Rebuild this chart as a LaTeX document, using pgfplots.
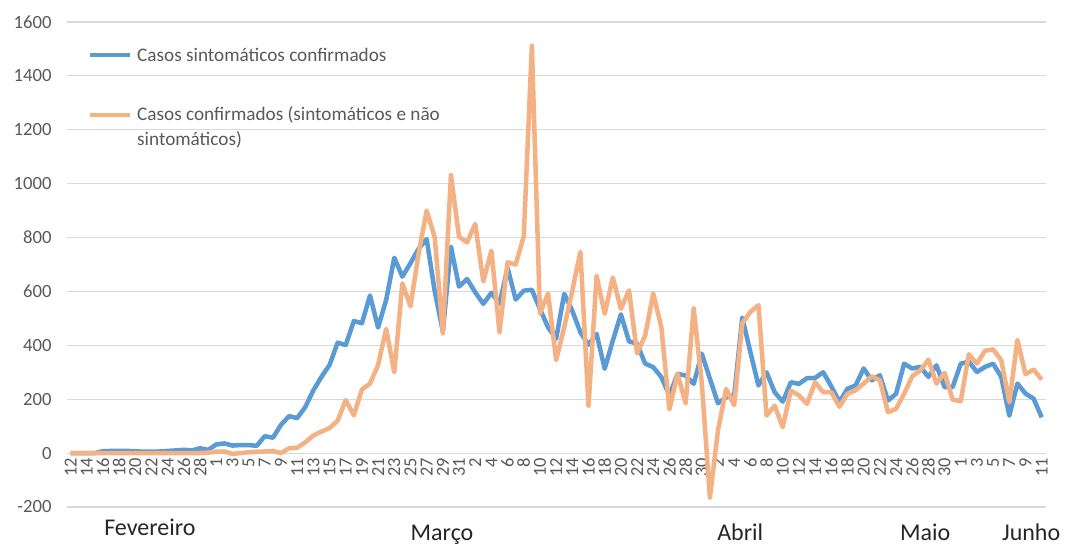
\documentclass[border=0pt]{standalone}
\usepackage{fontspec}
\setmainfont{Carlito}
\usepackage{pgfplots}
\pgfplotsset{compat=1.18}
\usepackage{pgfplotstable}
\usetikzlibrary{calc}
\definecolor{cblue}{HTML}{5B9BD5}
\definecolor{corange}{HTML}{F4B183}
\definecolor{cgrid}{HTML}{D9D9D9}
\definecolor{ctext}{HTML}{595959}
\pgfplotstableread{
d b o
0 0 0
1 0 0
2 0 0
3 0 0
4 7 0
5 8 0
6 8 0
7 8 0
8 7 0
9 5 0
10 5 0
11 6 0
12 8 0
13 10 0
14 12 0
15 10 0
16 18 0
17 12 2
18 32 5
19 36 6
20 28 -3
21 30 0
22 30 3
23 27 5
24 63 6
25 57 8
26 105 0
27 137 18
28 130 20
29 171 40
30 233 65
31 283 80
32 327 93
33 410 120
34 401 197
35 490 140
36 482 236
37 585 258
38 466 327
39 569 461
40 725 300
41 655 630
42 705 545
43 758 740
44 794 900
45 600 800
46 452 445
47 766 1032
48 618 803
49 646 782
50 597 851
51 554 637
52 595 751
53 555 449
54 687 708
55 570 700
56 603 805
57 606 1512
58 535 518
59 467 592
60 424 345
61 591 467
62 528 603
63 448 747
64 402 176
65 442 658
66 313 517
67 417 652
68 515 535
69 415 604
70 406 370
71 332 436
72 319 593
73 282 467
74 214 162
75 294 295
76 288 184
77 257 537
78 369 260
79 276 -165
80 185 85
81 207 238
82 214 178
83 503 481
84 375 524
85 251 549
86 300 139
87 226 176
88 191 96
89 263 232
90 257 214
91 278 183
92 279 263
93 300 226
94 248 226
95 190 172
96 239 220
97 251 233
98 314 258
99 270 285
100 289 270
101 195 152
102 220 164
103 332 220
104 314 285
105 320 307
106 283 347
107 326 258
108 245 298
109 245 198
110 332 193
111 339 367
112 301 332
113 320 380
114 332 385
115 283 345
116 139 189
117 258 420
118 221 293
119 202 310
120 133 273
}\data
\begin{document}
\begin{tikzpicture}
\begin{axis}[
 scale only axis, width=734.4pt, height=363.75pt,
 xmin=-0.5, xmax=120.5, ymin=-200, ymax=1600,
 ytick={-200,0,...,1600},
 xtick={0,2,...,120},
 xticklabels={12,14,16,18,20,22,24,26,28,1,3,5,7,9,11,13,15,17,19,21,23,25,27,29,31,2,4,6,8,10,12,14,16,18,20,22,24,26,28,30,2,4,6,8,10,12,14,16,18,20,22,24,26,28,30,1,3,5,7,9,11},
 ymajorgrids, grid style={cgrid, line width=0.9pt},
 axis line style={draw=none},
 major tick length=0pt,
 tick style={draw=none},
 /pgf/number format/assume math mode=true,
 /pgf/number format/1000 sep={},
 ticklabel style={font=\fontsize{14}{16}\selectfont, text=ctext},
 yticklabel style={xshift=-7.7pt},
 xticklabel style={rotate=90, anchor=east, font=\fontsize{13.8}{15}\selectfont},
 xticklabel shift=-40.5pt,
 clip=false,
]
\addplot[cblue, line width=3.4pt, line join=round] table[x=d,y=b]{\data};
\addplot[corange, line width=3.4pt, line join=round] table[x=d,y=o]{\data};
\draw[cblue, line width=3.4pt] (axis cs:2.4,1477) -- (axis cs:7.35,1477);
\draw[corange, line width=3.4pt] (axis cs:2.4,1255) -- (axis cs:7.35,1255);
\node[anchor=west, inner sep=0pt, text=ctext, font=\fontsize{14.4}{17}\selectfont] at (axis cs:8.2,1477) {Casos sintomáticos confirmados};
\node[anchor=west, inner sep=0pt, text=ctext, font=\fontsize{14.4}{17}\selectfont] at (axis cs:8.2,1255) {Casos confirmados (sintomáticos e não};
\node[anchor=west, inner sep=0pt, text=ctext, font=\fontsize{14.4}{17}\selectfont] at (axis cs:8.2,1162) {sintomáticos)};
\node[anchor=base, inner sep=0pt, font=\fontsize{18}{20}\selectfont, text=black!85] at (axis cs:9.8,-304) {Fevereiro};
\node[anchor=base, inner sep=0pt, font=\fontsize{18}{20}\selectfont, text=black!85] at (axis cs:45.9,-324) {Março};
\node[anchor=base, inner sep=0pt, font=\fontsize{18}{20}\selectfont, text=black!85] at (axis cs:82.75,-324) {Abril};
\node[anchor=base, inner sep=0pt, font=\fontsize{18}{20}\selectfont, text=black!85] at (axis cs:105.6,-324) {Maio};
\node[anchor=base, inner sep=0pt, font=\fontsize{18}{20}\selectfont, text=black!85] at (axis cs:118.7,-324) {Junho};
\coordinate (bl) at (rel axis cs:0,0);
\coordinate (tr) at (rel axis cs:1,1);
\end{axis}
\pgfresetboundingbox
\path[use as bounding box] ($(bl)+(-49.9pt,-30.75pt)$) rectangle ($(tr)+(15.2pt,16.5pt)$);
\end{tikzpicture}
\end{document}
